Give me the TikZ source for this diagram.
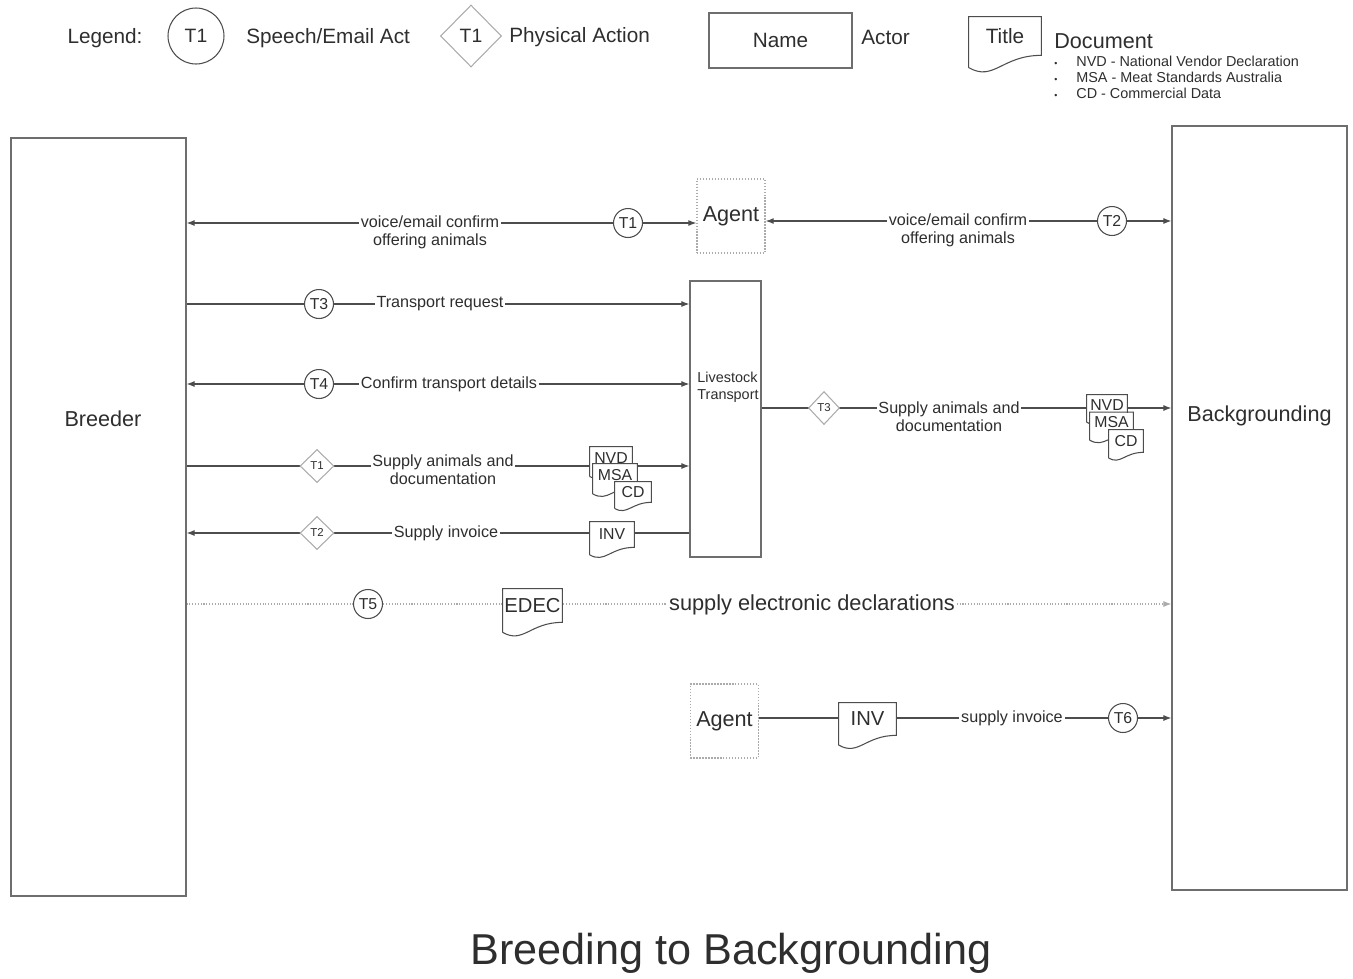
\documentclass[tikz,border=0pt]{standalone}
\usepackage{fontspec}
\setmainfont{Liberation Sans}
\usetikzlibrary{arrows.meta,positioning,shapes.geometric,backgrounds}

\definecolor{linegray}{HTML}{4D4D4D}
\definecolor{boxgray}{HTML}{6E6E6E}
\definecolor{softgray}{HTML}{ABABAB}
\definecolor{textgray}{HTML}{2E2E2E}

\newcommand{\flegend}{\fontsize{11.8}{14}\selectfont}
\newcommand{\factor}{\fontsize{12.3}{14.5}\selectfont}
\newcommand{\flabel}{\fontsize{9.2}{10.2}\selectfont}
\newcommand{\fact}{\fontsize{9}{10}\selectfont}
\newcommand{\fphys}{\fontsize{6.5}{7.5}\selectfont}
\newcommand{\fdocsm}{\fontsize{9}{10}\selectfont}
\newcommand{\fdocbig}{\fontsize{11.5}{13}\selectfont}
\newcommand{\flist}{\fontsize{8.2}{9.1}\selectfont}
\newcommand{\flt}{\fontsize{8.2}{9.6}\selectfont}
\newcommand{\ftitle}{\fontsize{24.6}{29}\selectfont}

% wavy bottom of a document node: #1 name, #2 width in cm
\newcommand{\docshape}[2]{%
  \fill[white] (#1.south east) .. controls +(-0.55*#2cm,0cm) and +(0.35*#2cm,-0.2*#2cm) .. ([yshift=-0.17*#2cm]#1.south west) -- (#1.south west) -- cycle;
  \draw[docedge] ([yshift=-0.17*#2cm]#1.south west) -- (#1.north west) -- (#1.north east) -- (#1.south east) .. controls +(-0.55*#2cm,0cm) and +(0.35*#2cm,-0.2*#2cm) .. ([yshift=-0.17*#2cm]#1.south west);}

\begin{document}
\begin{tikzpicture}[x=0.02cm, y=-0.02cm,
    every node/.style={text=textgray},
    actor/.style={draw=boxgray, line width=0.7pt, fill=white, inner sep=0pt},
    agentbox/.style={draw=softgray, densely dotted, line width=0.7pt, fill=white, minimum width=1.32cm, minimum height=1.48cm, font=\factor},
    act/.style={circle, draw=linegray, line width=0.6pt, fill=white, minimum size=0.58cm, inner sep=0pt, font=\fact},
    phys/.style={diamond, draw=softgray, line width=0.6pt, fill=white, minimum width=0.68cm, minimum height=0.66cm, inner sep=0pt, font=\fphys},
    doc/.style={fill=white, inner sep=0pt},
    docedge/.style={draw=linegray, line width=0.6pt},
    lbl/.style={fill=white, inner sep=1pt, align=center, font=\flabel},
    conn/.style={draw=linegray, line width=0.6pt},
    arr/.style={conn, -{Latex[length=1.6mm, width=1.2mm]}},
    arrs/.style={conn, {Latex[length=1.6mm, width=1.2mm]}-{Latex[length=1.6mm, width=1.2mm]}},
    arrb/.style={conn, {Latex[length=1.6mm, width=1.2mm]}-}
  ]
  \useasboundingbox (0,0) rectangle (1353,978);

  % legend
  \node[font=\flegend] (legend) at (105,38) {Legend:};
  \node[act, minimum size=1.12cm, font=\fontsize{11}{12}\selectfont] (legact) at (196,36) {T1};
  \node[font=\flegend, anchor=west, inner sep=0pt] (legacttxt) at (246,38) {Speech/Email Act};
  \node[phys, minimum width=1.22cm, minimum height=1.24cm, font=\fontsize{11}{12}\selectfont] (legphys) at (471,36) {T1};
  \node[font=\flegend, anchor=west, inner sep=0pt] (legphystxt) at (509,37) {Physical Action};
  \node[actor, minimum width=2.86cm, minimum height=1.1cm, font=\flegend] (legactor) at (780.5,40.5) {Name};
  \node[font=\flegend, anchor=west, inner sep=0pt] (legactortxt) at (861,37) {Actor};
  \node[doc, minimum width=1.44cm, minimum height=0.76cm, font=\flegend] (legdoc) at (1005,36) {Title};
  \docshape{legdoc}{1.44}
  \node[font=\fontsize{12.3}{14}\selectfont, anchor=west, inner sep=0pt] (legdoctxt) at (1054,41) {Document};
  \node[font=\flist, anchor=west, inner sep=0pt, align=left] (legdoclist) at (1054,77)
    {\makebox[0.44cm][l]{\tiny\textbullet}NVD - National Vendor Declaration\\
     \makebox[0.44cm][l]{\tiny\textbullet}MSA - Meat Standards Australia\\
     \makebox[0.44cm][l]{\tiny\textbullet}CD - Commercial Data};

  % actors
  \node[actor, minimum width=3.5cm, minimum height=15.16cm,
    label={[font=\factor, xshift=0.09cm, yshift=1.96cm]center:Breeder}] (breeder) at (98.5,517) {};
  \node[actor, minimum width=3.5cm, minimum height=15.28cm,
    label={[font=\factor, yshift=1.84cm]center:Backgrounding}] (bg) at (1259.5,508) {};
  \node[actor, minimum width=1.42cm, minimum height=5.52cm,
    label={[font=\flt, align=left, xshift=0.05cm, yshift=0.64cm]center:Livestock\\Transport}] (lt) at (725.5,419) {};
  \node[agentbox] (agenttop) at (731,216) {Agent};
  \node[agentbox, minimum width=1.3cm] (agentbot) at (724.5,721) {Agent};

  % acts
  \node[act] (t1) at (628,223) {T1};
  \node[act] (t2) at (1112,221) {T2};
  \node[act] (t3) at (319,304) {T3};
  \node[act] (t4) at (319,384) {T4};
  \node[phys] (p1) at (317,466) {T1};
  \node[phys] (p2) at (317,533) {T2};
  \node[phys, minimum width=0.62cm] (p3) at (824,408) {T3};
  \node[act] (t5) at (368,604) {T5};
  \node[act] (t6) at (1123,718) {T6};

  % labels
  \node[lbl] (offera) at (430,232) {voice/email confirm\\offering animals};
  \node[lbl] (offerb) at (958,230) {voice/email confirm\\offering animals};
  \node[lbl] (request) at (440,304) {Transport request};
  \node[lbl] (confirm) at (449,384) {Confirm transport details};
  \node[lbl] (supplya) at (443,470) {Supply animals and\\documentation};
  \node[lbl] (invoicea) at (446,533) {Supply invoice};
  \node[lbl] (supplyb) at (949,417) {Supply animals and\\documentation};
  \node[lbl, font=\fontsize{12.4}{14}\selectfont] (edecl) at (812,605) {supply electronic declarations};
  \node[lbl] (invoiceb) at (1012,718) {supply invoice};

  % documents
  \node[doc, minimum width=0.84cm, minimum height=0.44cm, font=\fdocsm] (nvda) at (611,458) {NVD};
  \docshape{nvda}{0.84}
  \node[doc, minimum width=0.88cm, minimum height=0.44cm, font=\fdocsm] (msaa) at (615,475) {MSA};
  \docshape{msaa}{0.88}
  \node[doc, minimum width=0.72cm, minimum height=0.4cm, font=\fdocsm] (cda) at (633,492) {CD};
  \docshape{cda}{0.72}
  \node[doc, minimum width=0.88cm, minimum height=0.5cm, font=\fdocsm] (inva) at (612,534.5) {INV};
  \docshape{inva}{0.88}
  \node[doc, minimum width=0.8cm, minimum height=0.4cm, font=\fdocsm] (nvdb) at (1107,405) {NVD};
  \docshape{nvdb}{0.8}
  \node[doc, minimum width=0.86cm, minimum height=0.4cm, font=\fdocsm] (msab) at (1111.5,422.5) {MSA};
  \docshape{msab}{0.86}
  \node[doc, minimum width=0.68cm, minimum height=0.44cm, font=\fdocsm] (cdb) at (1126,441) {CD};
  \docshape{cdb}{0.68}
  \node[doc, minimum width=1.18cm, minimum height=0.66cm, font=\fdocbig] (edec) at (532.5,605.5) {EDEC};
  \docshape{edec}{1.18}
  \node[doc, minimum width=1.14cm, minimum height=0.64cm, font=\fdocbig] (invb) at (867.5,719) {INV};
  \docshape{invb}{1.14}

  % connectors
  \begin{scope}[on background layer]
    \draw[arrs] (breeder.east |- t1) -- (agenttop.west |- t1);
    \draw[arrs] (agenttop.east |- t2) -- (bg.west |- t2);
    \draw[arr] (breeder.east |- t3) -- (lt.west |- t3);
    \draw[arrs] (breeder.east |- t4) -- (lt.west |- t4);
    \draw[arr] (breeder.east |- p1) -- (lt.west |- p1);
    \draw[arrb] (breeder.east |- p2) -- (lt.west |- p2);
    \draw[arr] (lt.east |- p3) -- (bg.west |- p3);
    \draw[arr, draw=softgray, densely dotted] (breeder.east |- t5) -- (bg.west |- t5);
    \draw[arr] (agentbot.east |- t6) -- (bg.west |- t6);
  \end{scope}

  \node[font=\ftitle] (title) at (731,953) {Breeding to Backgrounding};
\end{tikzpicture}
\end{document}
